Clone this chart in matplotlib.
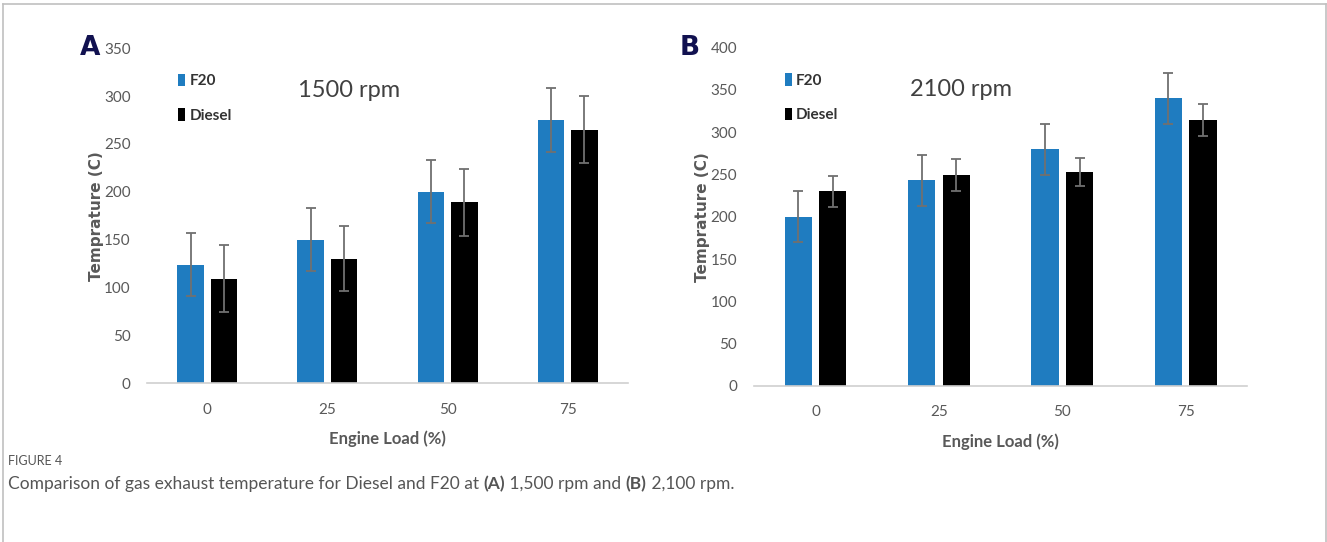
import matplotlib.pyplot as plt
from matplotlib.lines import Line2D
import numpy as np

# datos
loads = ["0", "25", "50", "75"]

f20_1500 = [124, 150, 200, 275]
f20_1500_err = [33, 33, 33, 33]
diesel_1500 = [109, 130, 189, 265]
diesel_1500_err = [35, 34, 35, 35]

f20_2100 = [200, 243, 280, 340]
f20_2100_err = [30, 30, 30, 30]
diesel_2100 = [230, 249, 253, 314]
diesel_2100_err = [18, 19, 17, 19]

BLUE = "#1f7cc0"
GRAY = "#595959"
FONT = "Lato"

fig = plt.figure(figsize=(13.27, 5.42), dpi=100)


def panel(rect, f20, f20e, dsl, dsle, ymax, rpm, letter, letter_x):
    ax = fig.add_axes(rect)
    x = np.arange(len(loads))
    w = 0.22
    ek = dict(ecolor="#707070", elinewidth=1.3, capsize=3.5, capthick=1.3)
    ax.bar(x - 0.14, f20, w, yerr=f20e, color=BLUE, error_kw=ek, label="F20")
    ax.bar(x + 0.14, dsl, w, yerr=dsle, color="black", error_kw=ek, label="Diesel")
    ax.set_xlim(-0.5, len(loads) - 0.5)
    ax.set_ylim(0, ymax)
    ax.set_yticks(np.arange(0, ymax + 1, 50))
    ax.set_xticks(x)
    ax.set_xticklabels(loads)
    for s in ["top", "right", "left"]:
        ax.spines[s].set_visible(False)
    ax.spines["bottom"].set_color("#d0d0d0")
    ax.spines["bottom"].set_linewidth(1.2)
    ax.tick_params(length=0, labelsize=11, labelcolor=GRAY, pad=12)
    ax.tick_params(axis="x", pad=14)
    for t in ax.get_xticklabels() + ax.get_yticklabels():
        t.set_family(FONT)
    ax.set_ylabel("Temprature (C)", fontsize=11, fontweight="bold", color=GRAY,
                  family="DejaVu Sans", labelpad=0)
    ax.set_xlabel("Engine Load (%)", fontsize=12, fontweight="bold", color=GRAY,
                  family=FONT, labelpad=10)
    ax.text(0.42, 0.875, rpm, transform=ax.transAxes, fontsize=17, color="#404040",
            family=FONT, ha="center", va="center")
    leg = ax.legend(loc="upper left", bbox_to_anchor=(0.035, 0.965), frameon=False,
                    handlelength=0.45, handleheight=0.9, handletextpad=0.3,
                    labelspacing=1.3, prop={"family": FONT, "weight": "bold", "size": 11})
    for t in leg.get_texts():
        t.set_color("#333333")
    ax.text(letter_x, 1.0, letter, transform=ax.transAxes, fontsize=19,
            fontweight="bold", color="#111150", family="DejaVu Sans",
            ha="center", va="center")
    return ax


ax1 = panel([0.111, 0.293, 0.362, 0.618], f20_1500, f20_1500_err,
            diesel_1500, diesel_1500_err, 350, "1500 rpm", "A", -0.12)
ax2 = panel([0.568, 0.288, 0.372, 0.624], f20_2100, f20_2100_err,
            diesel_2100, diesel_2100_err, 400, "2100 rpm", "B", -0.13)

# marco de la figura
frame = dict(color="#c0c0c0", lw=1.2, transform=fig.transFigure)
fig.add_artist(Line2D([0.0023, 0.9993], [0.9926, 0.9926], **frame))
fig.add_artist(Line2D([0.0023, 0.0023], [0.0, 0.9926], **frame))
fig.add_artist(Line2D([0.9993, 0.9993], [0.0, 0.9926], **frame))

# leyenda de la figura
fig.text(0.006, 0.149, "FIGURE 4", fontsize=9, color="#555555", family=FONT,
         va="center")
parts = [("Comparison of gas exhaust temperature for Diesel and F20 at ", "normal"),
         ("(A)", "bold"), (" 1,500 rpm and ", "normal"), ("(B)", "bold"),
         (" 2,100 rpm.", "normal")]
prev = fig.text(0.006, 0.098, parts[0][0], fontsize=12.5, color="#555555",
                family=FONT, va="baseline")
for txt, wt in parts[1:]:
    prev = ax1.annotate(txt, xy=(1, 0), xycoords=prev, va="bottom", ha="left",
                        fontsize=12.5, color="#555555", family=FONT,
                        fontweight=wt, annotation_clip=False)

fig.savefig("out.png", dpi=100)
